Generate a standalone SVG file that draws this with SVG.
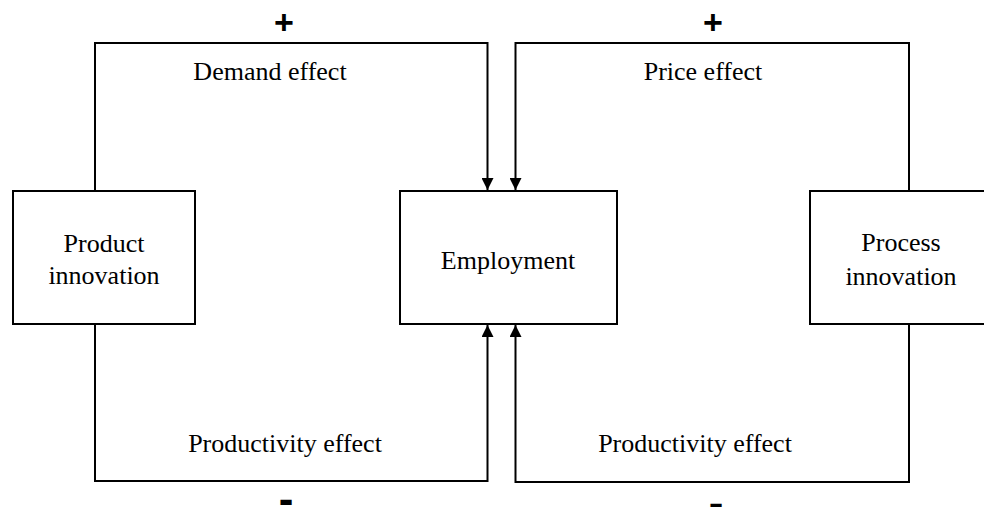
<svg xmlns="http://www.w3.org/2000/svg" width="984" height="507" viewBox="0 0 984 507">
<style>
.box{fill:#fff;stroke:#000;stroke-width:2}
.con{fill:none;stroke:#000;stroke-width:2}
.t{font-family:"Liberation Serif","Times New Roman",serif;font-size:26px;fill:#000;text-anchor:middle}
.s{font-family:"Liberation Sans",Arial,sans-serif;font-weight:bold;fill:#000;text-anchor:middle}
</style>
<defs>
<marker id="ah" markerUnits="userSpaceOnUse" markerWidth="12" markerHeight="12" viewBox="0 0 12 12" refX="12" refY="6" orient="auto">
<path d="M0,0 L12,6 L0,12 Z" fill="#000"/>
</marker>
</defs>
<rect width="984" height="507" fill="#fff"/>
<g id="connectors">
<path class="con" d="M95,191 V43 H487.5 V190" marker-end="url(#ah)"/>
<path class="con" d="M909,191 V43 H515.5 V190" marker-end="url(#ah)"/>
<path class="con" d="M95,324 V481 H487.5 V325" marker-end="url(#ah)"/>
<path class="con" d="M909,324 V482 H515.5 V325" marker-end="url(#ah)"/>
</g>
<g id="product">
<rect class="box" x="13" y="191" width="182" height="133"/>
<text class="t" x="104" y="252">Product</text>
<text class="t" x="104" y="284">innovation</text>
</g>
<g id="employment">
<rect class="box" x="400" y="191" width="217" height="133"/>
<text class="t" x="508" y="269">Employment</text>
</g>
<g id="process">
<rect class="box" x="810" y="191" width="180" height="133"/>
<text class="t" x="901" y="251">Process</text>
<text class="t" x="901" y="285">innovation</text>
</g>
<g id="labels">
<text class="t" x="270" y="80">Demand effect</text>
<text class="t" x="703" y="80">Price effect</text>
<text class="t" x="285" y="452">Productivity effect</text>
<text class="t" x="695" y="452">Productivity effect</text>
<text class="s" x="284" y="34" font-size="34">+</text>
<text class="s" x="713" y="34" font-size="34">+</text>
<text class="s" x="286" y="514" font-size="44">-</text>
<text class="s" x="716" y="518" font-size="44">-</text>
</g>
</svg>
